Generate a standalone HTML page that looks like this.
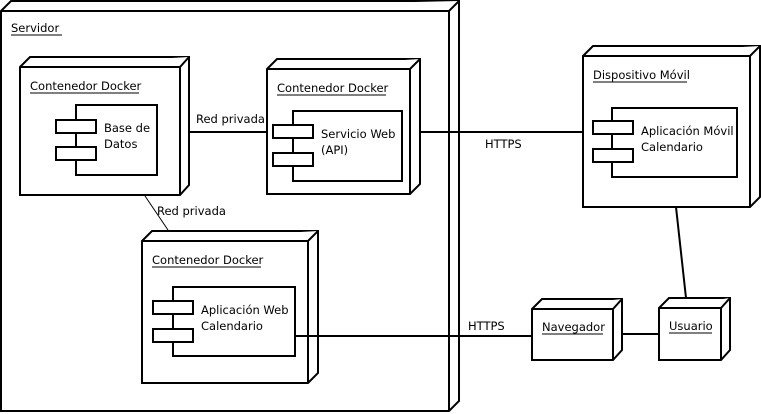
<!DOCTYPE html>
<html><head><meta charset="utf-8"><style>
html,body{margin:0;padding:0;background:#fff;}
svg{display:block;}
text{font-family:"DejaVu Sans","Liberation Sans",sans-serif;font-size:11.5px;fill:#000;}
</style></head><body>
<svg width="761" height="414" viewBox="0 0 761 414" xmlns="http://www.w3.org/2000/svg">
<g fill="#fff" stroke="#000" stroke-width="2" stroke-linejoin="miter">
<path d="M1,11 L11,1 L459,1 L459,401 L449,411 L1,411 Z"/>
<path d="M1,11 L449,11 L459,1 M449,11 L449,411"/>
<path d="M20,67 L30,57 L189,57 L189,185 L180,195 L20,195 Z"/>
<path d="M20,67 L180,67 L189,57 M180,67 L180,195"/>
<path d="M267,69 L277,59 L420,59 L420,184 L410,194 L267,194 Z"/>
<path d="M267,69 L410,69 L420,59 M410,69 L410,194"/>
<path d="M142,241 L152,231 L318,231 L318,373 L308,383 L142,383 Z"/>
<path d="M142,241 L308,241 L318,231 M308,241 L308,383"/>
<path d="M583,56 L593,46 L760,46 L760,197 L750,207 L583,207 Z"/>
<path d="M583,56 L750,56 L760,46 M750,56 L750,207"/>
<path d="M532,309 L542,299 L622,299 L622,350 L613,360 L532,360 Z"/>
<path d="M532,309 L613,309 L622,299 M613,309 L613,360"/>
<path d="M659,308 L669,298 L730,298 L730,350 L721,360 L659,360 Z"/>
<path d="M659,308 L721,308 L730,298 M721,308 L721,360"/>
<rect x="76" y="105" width="81" height="70"/>
<rect x="56" y="120" width="40" height="13"/>
<rect x="56" y="147" width="40" height="13"/>
<rect x="293" y="111" width="109" height="70"/>
<rect x="273" y="125" width="40" height="13"/>
<rect x="273" y="153" width="40" height="13"/>
<rect x="173" y="287" width="122" height="69"/>
<rect x="153" y="301" width="40" height="13"/>
<rect x="153" y="329" width="40" height="13"/>
<rect x="612" y="108" width="125" height="69"/>
<rect x="593" y="121" width="40" height="13"/>
<rect x="593" y="149" width="40" height="13"/>
<path d="M189,132 L267,132 M420,132 L583,132 M295,336 L532,336 M622,334 L659,334 M676,207 L686,298" fill="none"/>
<path d="M145,196 L168,230" fill="none" stroke-width="1"/>
</g>
<g>
<text x="11" y="32">Servidor</text><line x1="11" y1="35" x2="62" y2="35" stroke="#000"/>
<text x="30" y="90">Contenedor Docker</text><line x1="30" y1="93" x2="139" y2="93" stroke="#000"/>
<text x="277" y="92">Contenedor Docker</text><line x1="277" y1="95" x2="386" y2="95" stroke="#000"/>
<text x="152" y="264">Contenedor Docker</text><line x1="152" y1="267" x2="261" y2="267" stroke="#000"/>
<text x="593" y="79">Dispositivo Móvil</text><line x1="593" y1="82" x2="687" y2="82" stroke="#000"/>
<text x="542" y="331">Navegador</text><line x1="542" y1="334" x2="603" y2="334" stroke="#000"/>
<text x="669" y="330">Usuario</text><line x1="669" y1="333" x2="712" y2="333" stroke="#000"/>
<text x="104" y="132">Base de</text><text x="104" y="148">Datos</text>
<text x="321" y="138">Servicio Web</text><text x="321" y="154">(API)</text>
<text x="201" y="314">Aplicación Web</text><text x="201" y="330">Calendario</text>
<text x="641" y="135">Aplicación Móvil</text><text x="641" y="151">Calendario</text>
<text x="196" y="123">Red privada</text>
<text x="157" y="215">Red privada</text>
<text x="485" y="148">HTTPS</text>
<text x="468" y="330">HTTPS</text>
</g>
</svg>
</body></html>
